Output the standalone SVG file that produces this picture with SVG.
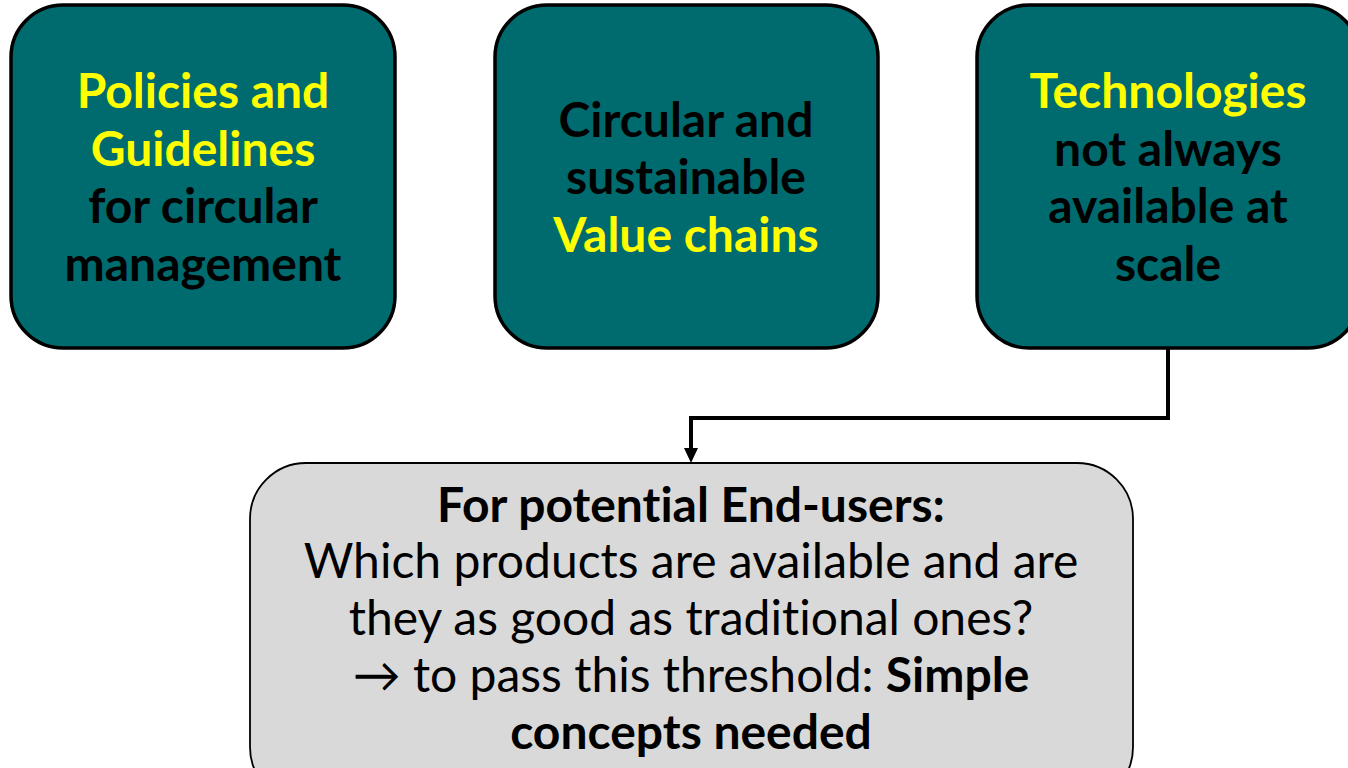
<svg xmlns="http://www.w3.org/2000/svg" width="1348" height="768" viewBox="0 0 1348 768">
<defs>
<style>
.box{fill:#006B6E;stroke:#000;stroke-width:3.5}
.gbox{fill:#D9D9D9;stroke:#000;stroke-width:1.8}
.t{font-family:Lato,"Liberation Sans",sans-serif;font-size:48px;text-anchor:middle;font-variant-ligatures:none}
.b{font-weight:bold}
.y{fill:#FFFF00}
.k{fill:#000}
.conn{fill:none;stroke:#000;stroke-width:4}
</style>
</defs>
<rect width="1348" height="768" fill="#fff"/>
<g id="connectors">
<path class="conn" d="M1168,348 V418 H691 V450"/>
<path d="M684,448 L698,448 L691,463 Z" fill="#000"/>
</g>
<g id="node-policies">
<rect class="box" x="11" y="5" width="384" height="343" rx="52"/>
<text class="t b" x="203"><tspan class="y" x="203" y="108">Policies and</tspan><tspan class="y" x="203" y="166">Guidelines</tspan><tspan class="k" x="203" y="223">for circular</tspan><tspan class="k" x="203" y="281">management</tspan></text>
</g>
<g id="node-value">
<rect class="box" x="495" y="5" width="383" height="343" rx="52"/>
<text class="t b" x="686"><tspan class="k" x="686" y="137">Circular and</tspan><tspan class="k" x="686" y="194">sustainable</tspan><tspan class="y" x="686" y="252">Value chains</tspan></text>
</g>
<g id="node-tech">
<rect class="box" x="977" y="5" width="383" height="343" rx="52"/>
<text class="t b" x="1168"><tspan class="y" x="1168" y="108">Technologies</tspan><tspan class="k" x="1168" y="166">not always</tspan><tspan class="k" x="1168" y="223">available at</tspan><tspan class="k" x="1168" y="281">scale</tspan></text>
</g>
<g id="node-endusers">
<rect class="gbox" x="250" y="463" width="883" height="340" rx="56"/>
<text class="t k" x="691"><tspan class="b" x="691" y="522">For potential End-users:</tspan><tspan x="691" y="578">Which products are available and are</tspan><tspan x="691" y="635">they as good as traditional ones?</tspan><tspan x="691" y="692">→ to pass this threshold: <tspan class="b">Simple</tspan></tspan><tspan class="b" x="691" y="749">concepts needed</tspan></text>
</g>
</svg>
